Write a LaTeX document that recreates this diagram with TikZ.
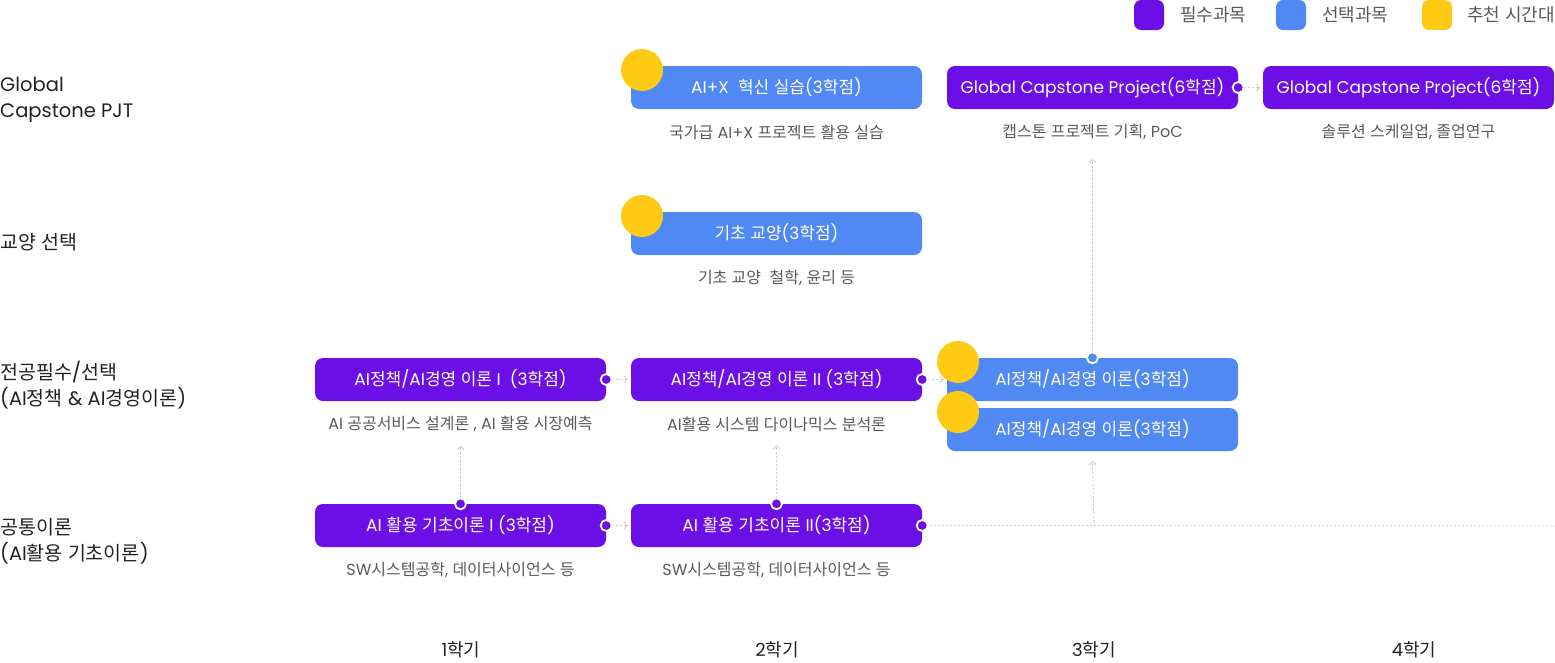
\documentclass[tikz,border=0pt]{standalone}
\usepackage{fontspec}
\setmainfont{Poppins}
\newfontfamily\krfont{Noto Sans CJK KR}
\newfontfamily\latfont{Poppins}
\newXeTeXintercharclass\HangulClass
\count255="AC00
\loop\XeTeXcharclass\count255=\HangulClass\ifnum\count255<"D7A3 \advance\count255 by 1 \repeat
\XeTeXinterchartokenstate=1
\XeTeXinterchartoks 0 \HangulClass = {\krfont}
\XeTeXinterchartoks 4095 \HangulClass = {\krfont}
\XeTeXinterchartoks \HangulClass 0 = {\latfont}
\XeTeXinterchartoks \HangulClass 4095 = {\latfont}
\usetikzlibrary{arrows.meta}
\definecolor{req}{HTML}{6B0FE6}
\definecolor{opt}{HTML}{5088F4}
\definecolor{rec}{HTML}{FFCA14}
\definecolor{subtxt}{HTML}{5A5A5A}
\definecolor{labtxt}{HTML}{222222}
\definecolor{conn}{HTML}{C8C8C8}
\tikzset{
  coursebox/.style={rounded corners=8pt, minimum width=291pt, minimum height=43pt, inner sep=0pt, text=white, font=\fontsize{17}{17}\selectfont},
  reqbox/.style={coursebox, fill=req},
  optbox/.style={coursebox, fill=opt},
  subnote/.style={text=subtxt, font=\fontsize{16}{16}\selectfont, inner sep=0pt},
  rowlabel/.style={anchor=west, align=left, text=labtxt, font=\fontsize{19.5}{26}\selectfont, inner sep=0pt},
  semlabel/.style={text=labtxt, font=\fontsize{18}{18}\selectfont, inner sep=0pt},
  recdot/.style={circle, fill=rec, minimum size=42pt, inner sep=0pt},
  pin/.style={circle, draw=white, line width=1.8pt, minimum size=11pt, inner sep=0pt},
  link/.style={draw=conn, line width=0.9pt, dash pattern=on 2pt off 2pt, -{Straight Barb[length=3pt,width=7pt,line width=0.8pt]}},
  guide/.style={draw=conn!80, line width=0.9pt, dash pattern=on 2pt off 2pt},
  legsq/.style={rounded corners=7pt, minimum size=30pt, inner sep=0pt},
  legtxt/.style={anchor=west, text=subtxt, font=\fontsize{18}{18}\selectfont, inner sep=0pt}
}
\begin{document}
\begin{tikzpicture}[x=1pt,y=-1pt]
\useasboundingbox (0,0) rectangle (1555,662);

% legend
\node[legsq, fill=req] (lg1) at (1149,15) {};
\node[legtxt] (lt1) at (1180,15) {필수과목};
\node[legsq, fill=opt] (lg2) at (1291,15) {};
\node[legtxt] (lt2) at (1322,15) {선택과목};
\node[legsq, fill=rec] (lg3) at (1437,15) {};
\node[legtxt] (lt3) at (1467,15) {추천 시간대};

% row labels
\node[rowlabel] (r1) at (0,100) {Global\\Capstone PJT};
\node[rowlabel] (r2) at (0,242) {교양 선택};
\node[rowlabel] (r3) at (0,385) {전공필수/선택\\(AI정책 \& AI경영이론)};
\node[rowlabel] (r4) at (0,541) {공통이론\\(AI활용 기초이론)};

% semester labels
\node[semlabel] (s1) at (461,650) {1학기};
\node[semlabel] (s2) at (777,650) {2학기};
\node[semlabel] (s3) at (1094,650) {3학기};
\node[semlabel] (s4) at (1414,650) {4학기};

% guide line along bottom row
\coordinate (gend) at (1555,526);
\coordinate (gup) at (1094,526);

% boxes
\node[optbox] (aix) at (776.5,87.5) {AI+X\ \ 혁신 실습(3학점)};
\node[subnote] (aixs) at (776.5,132) {국가급 AI+X 프로젝트 활용 실습};
\node[reqbox] (gc1) at (1092.5,87.5) {Global Capstone Project(6학점)};
\node[subnote] (gc1s) at (1092.5,132) {캡스톤 프로젝트 기획, PoC};
\node[reqbox] (gc2) at (1408.5,87.5) {Global Capstone Project(6학점)};
\node[subnote] (gc2s) at (1408.5,132) {솔루션 스케일업, 졸업연구};

\node[optbox] (gen) at (776.5,233.5) {기초 교양(3학점)};
\node[subnote] (gens) at (776.5,278) {기초 교양\ \ 철학, 윤리 등};

\node[reqbox] (p1) at (460.5,379.5) {AI정책/AI경영 이론 I\ \ (3학점)};
\node[subnote] (p1s) at (460.5,424) {AI 공공서비스 설계론 , AI 활용 시장예측};
\node[reqbox] (p2) at (776.5,379.5) {AI정책/AI경영 이론 II (3학점)};
\node[subnote] (p2s) at (776.5,424) {AI활용 시스템 다이나믹스 분석론};
\node[optbox] (p3a) at (1092.5,379.5) {AI정책/AI경영 이론(3학점)};
\node[optbox] (p3b) at (1092.5,429.5) {AI정책/AI경영 이론(3학점)};

\node[reqbox] (b1) at (460.5,525.5) {AI 활용 기초이론 I (3학점)};
\node[subnote] (b1s) at (460.5,570) {SW시스템공학, 데이터사이언스 등};
\node[reqbox] (b2) at (776.5,525.5) {AI 활용 기초이론 II(3학점)};
\node[subnote] (b2s) at (776.5,570) {SW시스템공학, 데이터사이언스 등};

% recommended-time markers
\node[recdot] (m1) at (642,70) {};
\node[recdot] (m2) at (642,216) {};
\node[recdot] (m3) at (958,362) {};
\node[recdot] (m4) at (958,412) {};

% connectors
\draw[guide] (b2.east) -- (gend);
\draw[link] ([xshift=6pt]p1.east) -- ([xshift=-3pt]p2.west);
\draw[link] ([xshift=6pt]b1.east) -- ([xshift=-3pt]b2.west);
\draw[link] ([xshift=6pt]p2.east) -- ([xshift=-3pt]p3a.west);
\draw[link] ([xshift=6pt]gc1.east) -- ([xshift=-3pt]gc2.west);
\draw[link] ([yshift=-6pt]b1.north) -- ([yshift=-14pt]p1s.south);
\draw[link] ([yshift=-6pt]b2.north) -- ([yshift=-14pt]p2s.south);
\draw[link] (gup) -- ([yshift=-10pt]p3b.south);
\draw[link] ([yshift=-6pt]p3a.north) -- ([yshift=-19pt]gc1s.south);

% connection pins
\node[pin, fill=req] (d1) at (p1.east) {};
\node[pin, fill=req] (d2) at (b1.east) {};
\node[pin, fill=req] (d3) at (p2.east) {};
\node[pin, fill=req] (d4) at (b2.east) {};
\node[pin, fill=req] (d5) at (gc1.east) {};
\node[pin, fill=req] (d6) at (b1.north) {};
\node[pin, fill=req] (d7) at (b2.north) {};
\node[pin, fill=opt] (d8) at (p3a.north) {};
\end{tikzpicture}
\end{document}
